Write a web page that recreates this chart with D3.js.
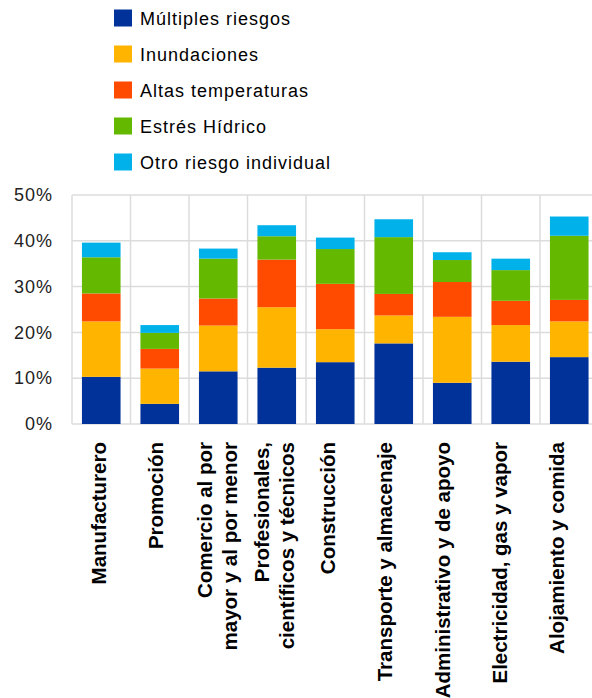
<!DOCTYPE html>
<html>
<head>
<meta charset="utf-8">
<script src="https://cdn.jsdelivr.net/npm/d3@7"></script>
<style>
  body { margin: 0; background: #fff; }
  svg { display: block; font-family: "Liberation Sans", Arial, sans-serif; }
</style>
</head>
<body>
<div id="chart"></div>
<script>
const categories = [
  ['Manufacturero'],
  ['Promoción'],
  ['Comercio al por', 'mayor y al por menor'],
  ['Profesionales,', 'científicos y técnicos'],
  ['Construcción'],
  ['Transporte y almacenaje'],
  ['Administrativo y de apoyo'],
  ['Electricidad, gas y vapor'],
  ['Alojamiento y comida']
]
const seriesNames = ['Múltiples riesgos', 'Inundaciones', 'Altas temperaturas', 'Estrés Hídrico', 'Otro riesgo individual']
const colors = ['#003299', '#ffb400', '#ff4b00', '#65b800', '#00b1ea']

// values in %
const multiples = [10.3, 4.4, 11.5, 12.3, 13.5, 17.6, 9.0, 13.6, 14.6]
const inundaciones = [12.1, 7.7, 10.0, 13.2, 7.2, 6.1, 14.4, 8.0, 7.8]
const temperaturas = [6.1, 4.3, 5.9, 10.4, 9.9, 4.7, 7.6, 5.3, 4.7]
const hidrico = [7.9, 3.5, 8.7, 5.1, 7.6, 12.4, 4.8, 6.7, 14.0]
const otro = [3.2, 1.7, 2.2, 2.4, 2.5, 3.9, 1.7, 2.5, 4.2]
const yTicks = [0, 10, 20, 30, 40, 50]

const width = 592, height = 698
const margin = {top: 195, left: 72, bottom: 274}
const plotW = 526.5
const plotH = height - margin.top - margin.bottom

const svg = d3.select('#chart').append('svg')
  .attr('width', width)
  .attr('height', height)

const keys = seriesNames
const table = categories.map((c, i) => ({
  key: i,
  [keys[0]]: multiples[i],
  [keys[1]]: inundaciones[i],
  [keys[2]]: temperaturas[i],
  [keys[3]]: hidrico[i],
  [keys[4]]: otro[i]
}))
const stacked = d3.stack().keys(keys)(table)

const x = d3.scaleBand()
  .domain(d3.range(categories.length))
  .range([margin.left, margin.left + plotW])
  .paddingInner(0.34)
  .paddingOuter(0.17)
const xBand = d3.scaleBand()
  .domain(d3.range(categories.length))
  .range([margin.left, margin.left + plotW])
// tick labels sit on a slightly tighter spacing than the bars
const xLabel = d3.scalePoint()
  .domain(d3.range(categories.length))
  .range([106, 564])

const y = d3.scaleLinear()
  .domain([0, 50])
  .range([margin.top + plotH, margin.top])

const grid = svg.append('g')
  .attr('stroke', '#dcdcdc')
  .attr('stroke-width', 1.5)

grid.selectAll('.hgrid')
  .data(yTicks)
  .enter()
  .append('line')
  .attr('x1', margin.left)
  .attr('x2', margin.left + plotW)
  .attr('y1', d => y(d))
  .attr('y2', d => y(d))

grid.selectAll('.vgrid')
  .data(d3.range(categories.length + 1))
  .enter()
  .append('line')
  .attr('x1', d => d < categories.length ? xBand(d) : margin.left + plotW)
  .attr('x2', d => d < categories.length ? xBand(d) : margin.left + plotW)
  .attr('y1', y(50))
  .attr('y2', y(0))

svg.append('g')
  .selectAll('g')
  .data(stacked)
  .enter()
  .append('g')
  .attr('fill', (d, i) => colors[i])
  .selectAll('rect')
  .data(d => d)
  .enter()
  .append('rect')
  .attr('x', d => x(d.data.key))
  .attr('width', x.bandwidth())
  .attr('y', d => y(d[1]))
  .attr('height', d => y(d[0]) - y(d[1]))

// y axis
const yAxis = svg.append('g')
  .attr('transform', `translate(${margin.left - 19},0)`)
  .call(d3.axisLeft(y).tickValues(yTicks).tickFormat(d => d + '%').tickSize(0).tickPadding(0))
yAxis.select('.domain').remove()
yAxis.selectAll('text')
  .attr('font-size', 18)
  .attr('letter-spacing', 1)
  .attr('fill', '#222')
  .attr('font-family', '"Liberation Sans", Arial, sans-serif')

// x labels
const xl = svg.append('g')
xl.selectAll('text')
  .data(categories)
  .enter()
  .append('text')
  .attr('transform', (d, i) => `translate(${xLabel(i)},442) rotate(-90)`)
  .attr('text-anchor', 'end')
  .attr('font-size', 20.5)
  .attr('font-weight', 'bold')
  .attr('fill', '#000')
  .each(function(d) {
    const t = d3.select(this)
    if (d.length === 1) {
      t.append('tspan').attr('x', 0).attr('y', 0).text(d[0])
    } else {
      t.append('tspan').attr('x', 0).attr('y', -9).text(d[0])
      t.append('tspan').attr('x', 0).attr('y', 16).text(d[1])
    }
  })

// legend
const legend = svg.append('g')
  .selectAll('g')
  .data(seriesNames)
  .enter()
  .append('g')
  .attr('transform', (d, i) => `translate(114,${18 + i * 36})`)
legend.append('rect')
  .attr('x', 0)
  .attr('y', -8.5)
  .attr('width', 18)
  .attr('height', 17)
  .attr('fill', (d, i) => colors[i])
legend.append('text')
  .attr('x', 26)
  .attr('y', 6.5)
  .attr('font-size', 18)
  .attr('letter-spacing', 1)
  .attr('fill', '#000')
  .text(d => d)
</script>
</body>
</html>
